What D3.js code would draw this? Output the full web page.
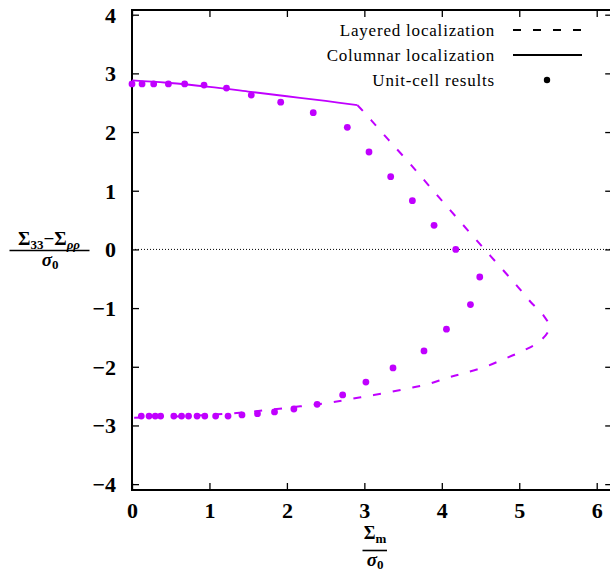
<!DOCTYPE html>
<html>
<head>
<meta charset="utf-8">
<script src="https://cdn.jsdelivr.net/npm/d3@7"></script>
<style>
  body { margin: 0; background: #fff; }
  text { font-family: "Liberation Serif", serif; fill: #000; }
</style>
</head>
<body>
<div id="chart"></div>
<script>
// data
const unitCell = [
  [0.00, 2.82], [0.13, 2.82], [0.28, 2.82], [0.47, 2.82], [0.68, 2.82],
  [0.93, 2.80], [1.22, 2.75], [1.54, 2.63], [1.92, 2.51], [2.34, 2.33],
  [2.78, 2.08], [3.06, 1.66], [3.34, 1.24], [3.62, 0.83], [3.90, 0.41],
  [4.18, 0.00], [4.49, -0.47], [4.37, -0.94], [4.06, -1.36], [3.77, -1.73],
  [3.37, -2.02], [3.02, -2.26], [2.72, -2.48], [2.39, -2.64], [2.09, -2.72],
  [1.84, -2.77], [1.62, -2.80], [1.42, -2.82], [1.24, -2.84], [1.08, -2.84],
  [0.94, -2.84], [0.84, -2.84], [0.73, -2.84], [0.64, -2.84], [0.54, -2.84],
  [0.37, -2.84], [0.30, -2.84], [0.22, -2.84], [0.12, -2.84]
]

const columnar = [
  [0.00, 2.88], [0.45, 2.84], [1.00, 2.77], [1.50, 2.69],
  [2.00, 2.61], [2.50, 2.53], [2.91, 2.46]
]

const layered = [
  [2.91, 2.46], [2.98, 2.36], [3.09, 2.20], [3.31, 1.87], [3.59, 1.46],
  [3.89, 1.00], [4.20, 0.53], [4.54, 0.02], [4.85, -0.44], [4.99, -0.65],
  [5.15, -0.90], [5.31, -1.12], [5.39, -1.33], [5.28, -1.55], [5.06, -1.72],
  [4.80, -1.87], [4.54, -2.01], [4.28, -2.11], [4.07, -2.19], [3.81, -2.30],
  [3.56, -2.37], [3.30, -2.44], [3.04, -2.50], [2.78, -2.56], [2.50, -2.62],
  [2.00, -2.70], [1.50, -2.77], [1.00, -2.82], [0.50, -2.85], [0.00, -2.87]
]

const xTicks = [0, 1, 2, 3, 4, 5, 6]
const yTicks = [-4, -3, -2, -1, 0, 1, 2, 3, 4]
const legendLabels = ["Layered localization", "Columnar localization", "Unit-cell results"]

// layout
const width = 610, height = 572
const colour = "#c000ff"

const svg = d3.select("#chart").append("svg")
  .attr("width", width)
  .attr("height", height)

const x = d3.scaleLinear().domain([0, 6.2]).range([132, 612.2])
const y = d3.scaleLinear().domain([-4.1, 4.08]).range([490, 10])

// axes, ticks pointing inward like gnuplot
const fmt = d => d < 0 ? "\u2212" + Math.abs(d) : d

svg.append("g")
  .attr("transform", "translate(" + x(0) + ",0)")
  .call(d3.axisLeft(y).tickValues(yTicks).tickSizeInner(-7).tickSizeOuter(0)
    .tickPadding(16).tickFormat(fmt))
  .call(g => g.select(".domain").remove())
  .call(g => g.selectAll("text").attr("font-size", 22).attr("font-weight", "bold")
    .attr("font-family", "Liberation Serif").attr("dy", "0.34em"))

svg.append("g")
  .attr("transform", "translate(" + x(6.2) + ",0)")
  .call(d3.axisRight(y).tickValues(yTicks).tickSizeInner(-7).tickSizeOuter(0).tickFormat(""))
  .call(g => g.select(".domain").remove())

svg.append("g")
  .attr("transform", "translate(0," + y(-4.1) + ")")
  .call(d3.axisBottom(x).tickValues(xTicks).tickSizeInner(-7).tickSizeOuter(0)
    .tickPadding(12).tickFormat(fmt))
  .call(g => g.select(".domain").remove())
  .call(g => g.selectAll("text").attr("font-size", 22).attr("font-weight", "bold")
    .attr("font-family", "Liberation Serif"))

svg.append("g")
  .attr("transform", "translate(0," + y(4.08) + ")")
  .call(d3.axisTop(x).tickValues(xTicks).tickSizeInner(-7).tickSizeOuter(0).tickFormat(""))
  .call(g => g.select(".domain").remove())

svg.selectAll(".tick line").attr("stroke", "#000").attr("stroke-width", 1.3)

// frame
svg.append("rect")
  .attr("x", x(0))
  .attr("y", y(4.08))
  .attr("width", x(6.2) - x(0))
  .attr("height", y(-4.1) - y(4.08))
  .attr("fill", "none")
  .attr("stroke", "#000")
  .attr("stroke-width", 2)

// zero line
svg.append("line")
  .attr("x1", x(0)).attr("x2", x(6.2))
  .attr("y1", y(0)).attr("y2", y(0))
  .attr("stroke", "#000")
  .attr("stroke-width", 1)
  .attr("stroke-dasharray", "1,2")

const line = d3.line()
  .x(d => x(d[0]))
  .y(d => y(d[1]))
  .curve(d3.curveCatmullRom)

svg.append("path")
  .datum(columnar)
  .attr("d", line)
  .attr("fill", "none")
  .attr("stroke", colour)
  .attr("stroke-width", 1.8)

svg.append("path")
  .datum(layered)
  .attr("d", line)
  .attr("fill", "none")
  .attr("stroke", colour)
  .attr("stroke-width", 2)
  .attr("stroke-dasharray", "8,12")

svg.selectAll(".pt")
  .data(unitCell)
  .enter().append("circle")
  .attr("class", "pt")
  .attr("cx", d => x(d[0]))
  .attr("cy", d => y(d[1]))
  .attr("r", 3.4)
  .attr("fill", colour)

// legend
const legend = svg.append("g")
legendLabels.forEach((lab, i) => {
  const ly = 30 + i * 25
  legend.append("text")
    .attr("x", 495)
    .attr("y", ly + 6)
    .attr("text-anchor", "end")
    .attr("font-size", 17)
    .attr("letter-spacing", "0.8px")
    .text(lab)
  if (i == 0) {
    legend.append("line").attr("x1", 513).attr("x2", 582).attr("y1", ly).attr("y2", ly)
      .attr("stroke", "#000").attr("stroke-width", 2).attr("stroke-dasharray", "8,12")
  } else if (i == 1) {
    legend.append("line").attr("x1", 513).attr("x2", 582).attr("y1", ly).attr("y2", ly)
      .attr("stroke", "#000").attr("stroke-width", 1.8)
  } else {
    legend.append("circle").attr("cx", 547).attr("cy", ly).attr("r", 3.2).attr("fill", "#000")
  }
})

// y label: (Σ33 − Σρρ) / σ0
const yl = svg.append("g").attr("font-weight", "bold")
const num = yl.append("text").attr("x", 49).attr("y", 245).attr("text-anchor", "middle")
  .attr("font-size", 19)
num.append("tspan").text("Σ")
num.append("tspan").attr("font-size", 13).attr("dy", 4).text("33")
num.append("tspan").attr("dy", -4).text("−Σ")
num.append("tspan").attr("font-size", 13).attr("dy", 4).attr("font-style", "italic").text("ρρ")
yl.append("line").attr("x1", 9.5).attr("x2", 89.5).attr("y1", 250.5).attr("y2", 250.5)
  .attr("stroke", "#000").attr("stroke-width", 1.6)
const den = yl.append("text").attr("x", 50).attr("y", 266).attr("text-anchor", "middle")
  .attr("font-size", 19)
den.append("tspan").attr("font-style", "italic").text("σ")
den.append("tspan").attr("font-size", 13).attr("dy", 3).text("0")

// x label: Σm / σ0
const xl = svg.append("g").attr("font-weight", "bold")
const xnum = xl.append("text").attr("x", 375).attr("y", 539).attr("text-anchor", "middle")
  .attr("font-size", 18)
xnum.append("tspan").text("Σ")
xnum.append("tspan").attr("font-size", 13).attr("dy", 4).text("m")
xl.append("line").attr("x1", 362.5).attr("x2", 387).attr("y1", 550.5).attr("y2", 550.5)
  .attr("stroke", "#000").attr("stroke-width", 1.6)
const xden = xl.append("text").attr("x", 375).attr("y", 566).attr("text-anchor", "middle")
  .attr("font-size", 19)
xden.append("tspan").attr("font-style", "italic").text("σ")
xden.append("tspan").attr("font-size", 13).attr("dy", 3).text("0")
</script>
</body>
</html>
